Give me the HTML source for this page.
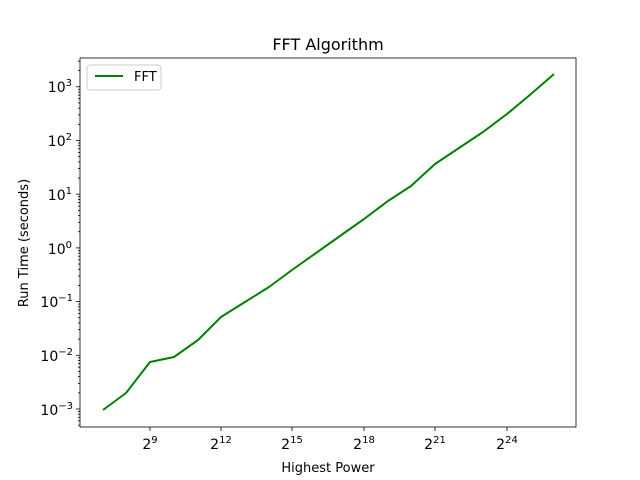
<!DOCTYPE html><html><head><style>body{margin:0;background:#fff}svg{display:block;font-family:"DejaVu Sans",sans-serif}</style></head><body>
<svg id="s" width="640" height="480" xmlns="http://www.w3.org/2000/svg">
<rect width="640" height="480" fill="#fff"/>
<polyline fill="none" stroke="#008000" stroke-width="2" stroke-linejoin="round" points="103,410 126,393 150,362 174,357 198,340 221,317 245,302 269,287 292,270 316,253 340,236 364,219 388,201 411,186 435,164 459,148 483,132 507,114 531,94 554,74"/>
<rect x="80" y="58" width="496" height="369" fill="none" stroke="#000" stroke-width="0.8"/>
<g id="t" stroke="#000" stroke-width="0.8"></g>
<g font-size="14" fill="#000" text-anchor="middle">
<text x="150" y="449">2<tspan font-size="10" dy="-6">9</tspan></text>
<text x="221" y="449">2<tspan font-size="10" dy="-6">12</tspan></text>
<text x="292" y="449">2<tspan font-size="10" dy="-6">15</tspan></text>
<text x="364" y="449">2<tspan font-size="10" dy="-6">18</tspan></text>
<text x="435" y="449">2<tspan font-size="10" dy="-6">21</tspan></text>
<text x="507" y="449">2<tspan font-size="10" dy="-6">24</tspan></text>
</g>
<g font-size="14" fill="#000" text-anchor="end">
<text x="73" y="415">10<tspan font-size="10" dy="-6">−3</tspan></text>
<text x="73" y="361">10<tspan font-size="10" dy="-6">−2</tspan></text>
<text x="73" y="307">10<tspan font-size="10" dy="-6">−1</tspan></text>
<text x="72" y="254">10<tspan font-size="10" dy="-6">0</tspan></text>
<text x="72" y="200">10<tspan font-size="10" dy="-6">1</tspan></text>
<text x="72" y="146">10<tspan font-size="10" dy="-6">2</tspan></text>
<text x="72" y="92">10<tspan font-size="10" dy="-6">3</tspan></text>
</g>
<text x="328" y="50" font-size="16" text-anchor="middle">FFT Algorithm</text>
<text x="328" y="472" font-size="13" text-anchor="middle">Highest Power</text>
<text transform="translate(28,243) rotate(-90)" font-size="13" text-anchor="middle">Run Time (seconds)</text>
<rect x="87" y="65" width="74" height="25" rx="3" fill="#fff" stroke="#ccc"/>
<line x1="95" y1="76" x2="123" y2="76" stroke="#008000" stroke-width="2"/>
<text x="134" y="81" font-size="13">FFT</text>
</svg>
<script>
var g=document.getElementById('t'),h='';
[150,221,292,364,435,507].forEach(function(x){h+='<line x1="'+x+'" y1="427" x2="'+x+'" y2="431"/>';});
for(var d=-4;d<=3;d++){var y0=409-(d+3)*53.7;
 if(y0>=58&&y0<=427)h+='<line x1="76" y1="'+y0+'" x2="80" y2="'+y0+'"/>';
 for(var k=2;k<10;k++){var y=y0-53.7*Math.log10(k);if(y>58&&y<427)h+='<line x1="78" y1="'+y+'" x2="80" y2="'+y+'"/>';}}
g.innerHTML=h;
</script>
</body></html>
